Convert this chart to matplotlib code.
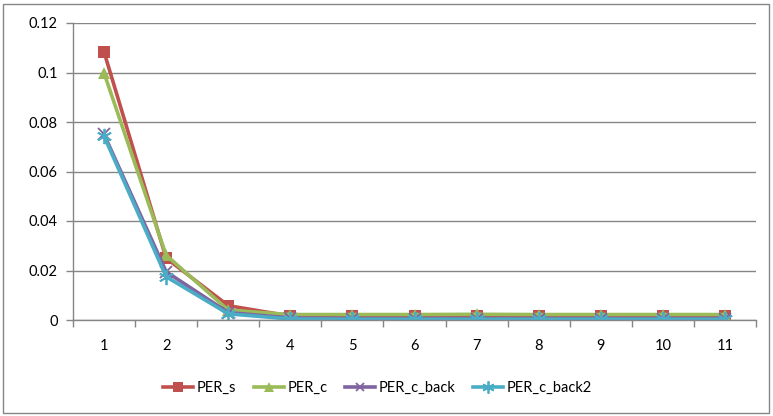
import matplotlib
matplotlib.use("Agg")
import matplotlib.pyplot as plt
from matplotlib.patches import Rectangle
import numpy as np

categories = [1, 2, 3, 4, 5, 6, 7, 8, 9, 10, 11]
per_s = [0.1083, 0.0250, 0.0058, 0.0016, 0.0015, 0.0015, 0.0015, 0.0015, 0.0015, 0.0015, 0.0015]
per_c = [0.0998, 0.0262, 0.0040, 0.0022, 0.0022, 0.0022, 0.0023, 0.0022, 0.0022, 0.0022, 0.0022]
per_c_back = [0.0750, 0.0195, 0.0030, 0.0008, 0.0006, 0.0006, 0.0006, 0.0006, 0.0006, 0.0006, 0.0006]
per_c_back2 = [0.0743, 0.0175, 0.0025, 0.0004, 0.0003, 0.0003, 0.0003, 0.0003, 0.0003, 0.0003, 0.0003]
y_ticks = [0, 0.02, 0.04, 0.06, 0.08, 0.1, 0.12]
y_labels = ["0", "0.02", "0.04", "0.06", "0.08", "0.1", "0.12"]

plt.rcParams['font.family'] = ['Lato', 'DejaVu Sans']

fig = plt.figure(figsize=(7.73, 4.16), dpi=100)
ax = fig.add_axes([73 / 773, 1 - 320 / 416, (756 - 73) / 773, (320 - 23) / 416])

x = np.arange(len(categories))
series = [
    ("PER_s", per_s, "#C0504D", "s", 9),
    ("PER_c", per_c, "#9BBB59", "^", 9),
    ("PER_c_back", per_c_back, "#8064A2", "x", 8),
    ("PER_c_back2", per_c_back2, "#4BACC6", (6, 2, 0), 11),
]
for name, vals, col, mk, ms in series:
    kw = dict(markeredgewidth=1.3) if mk in ("x",) or isinstance(mk, tuple) else dict(markeredgewidth=0)
    ax.plot(x, vals, color=col, lw=2.6, marker=mk, markersize=ms,
            markerfacecolor=col, markeredgecolor=col, label=name, **kw)

ax.set_xlim(-0.5, len(categories) - 0.5)
ax.set_ylim(0, 0.12)
ax.set_yticks(y_ticks)
ax.set_yticklabels(y_labels)
ax.set_xticks(x)
ax.set_xticklabels([str(c) for c in categories])
ax.set_xticks(np.arange(-0.5, len(categories), 1), minor=True)
ax.tick_params(axis='x', which='major', length=0, pad=14, labelsize=10.5)
ax.tick_params(axis='x', which='minor', length=5, color='#868686', width=1)
ax.tick_params(axis='y', length=5, color='#868686', width=1, labelsize=10.5, pad=6)
ax.yaxis.grid(True, color='#868686', lw=1)
ax.set_axisbelow(True)
for s in ("top", "right"):
    ax.spines[s].set_visible(False)
for s in ("left", "bottom"):
    ax.spines[s].set_color('#868686')
    ax.spines[s].set_linewidth(1)

fig.patches.append(Rectangle((3 / 773, 3 / 416), 766 / 773, 409 / 416, transform=fig.transFigure,
                             fill=False, edgecolor='#868686', lw=1))

leg = fig.legend(loc='center', bbox_to_anchor=(377.5 / 773, 1 - 388 / 416), ncol=4, frameon=False,
                 fontsize=10.5, handlelength=2.05, columnspacing=1.2, handletextpad=0.27,
                 borderpad=0, markerscale=0.8)

fig.savefig("out.png", dpi=100)
